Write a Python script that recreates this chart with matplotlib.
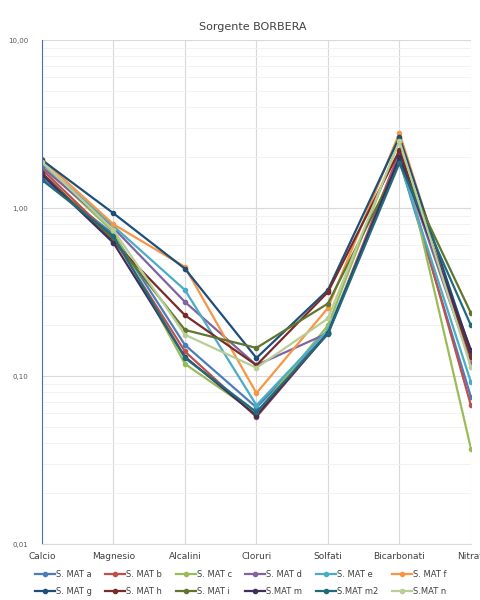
import numpy as np
import matplotlib.pyplot as plt
from matplotlib.ticker import FixedLocator, LogLocator, NullFormatter

categories = ["Calcio", "Magnesio", "Alcalini", "Cloruri", "Solfati", "Bicarbonati", "Nitrati"]

series_names = ["S. MAT a", "S. MAT b", "S. MAT c", "S. MAT d", "S. MAT e", "S. MAT f",
                "S. MAT g", "S. MAT h", "S. MAT i", "S.MAT m", "S.MAT m2", "S.MAT n"]

mat_a = [1.50, 0.70, 0.153, 0.065, 0.180, 1.93, 0.075]
mat_b = [1.70, 0.66, 0.140, 0.057, 0.180, 2.15, 0.067]
mat_c = [1.80, 0.72, 0.118, 0.060, 0.200, 2.54, 0.037]
mat_d = [1.75, 0.76, 0.276, 0.116, 0.180, 2.05, 0.120]
mat_e = [1.85, 0.78, 0.325, 0.067, 0.188, 1.90, 0.092]
mat_f = [1.95, 0.80, 0.446, 0.079, 0.254, 2.80, 0.128]
mat_g = [1.93, 0.93, 0.435, 0.128, 0.325, 2.64, 0.139]
mat_h = [1.62, 0.63, 0.230, 0.116, 0.316, 2.20, 0.130]
mat_i = [1.58, 0.65, 0.188, 0.147, 0.270, 1.88, 0.237]
mat_m = [1.58, 0.62, 0.130, 0.058, 0.180, 2.00, 0.143]
mat_m2 = [1.47, 0.68, 0.128, 0.061, 0.178, 1.85, 0.200]
mat_n = [1.88, 0.74, 0.176, 0.112, 0.220, 2.50, 0.113]

values = [mat_a, mat_b, mat_c, mat_d, mat_e, mat_f,
          mat_g, mat_h, mat_i, mat_m, mat_m2, mat_n]

colors = ["#4A7EBB", "#C0504D", "#9BBB59", "#8064A2", "#4BACC6", "#F79646",
          "#1F4E79", "#772C2A", "#5F7530", "#3F2F5A", "#216A7C", "#B9CD96"]

fig = plt.figure(figsize=(4.81, 6.0), dpi=100)
ax = fig.add_axes([0.0873, 0.0933, 0.8917, 0.84])

x = np.arange(len(categories))
lines = []
for name, vals, col in zip(series_names, values, colors):
    ln, = ax.plot(x, vals, color=col, lw=1.6, marker="o", ms=3, label=name)
    lines.append(ln)

ax.set_yscale("log")
ax.set_ylim(0.01, 10)
ax.set_xlim(0, len(categories) - 1)
ax.yaxis.set_major_locator(FixedLocator([0.01, 0.1, 1, 10]))
ax.set_yticklabels(["0,01", "0,10", "1,00", "10,00"])
ax.yaxis.set_minor_locator(LogLocator(base=10, subs=np.arange(2, 10)))
ax.yaxis.set_minor_formatter(NullFormatter())
ax.set_xticks(x)
ax.set_xticklabels(categories)

ax.grid(axis="y", which="major", color="#D9D9D9", lw=0.8)
ax.grid(axis="y", which="minor", color="#F0F0F0", lw=0.6)
ax.grid(axis="x", which="major", color="#D9D9D9", lw=0.8)
ax.set_axisbelow(True)

ax.tick_params(axis="both", which="both", length=0)
ax.tick_params(axis="y", labelsize=5, labelcolor="#595959", pad=10)
ax.tick_params(axis="x", labelsize=6.5, labelcolor="#404040", pad=6)

for s in ["top", "right"]:
    ax.spines[s].set_visible(False)
ax.spines["left"].set_color("#4A6FA5")
ax.spines["bottom"].set_color("#D9D9D9")

fig.text(0.525, 0.955, "Sorgente BORBERA", ha="center", va="center",
         fontsize=8, color="#404040")

# legend filled column by column -> interleave so it reads row by row
order = [0, 6, 1, 7, 2, 8, 3, 9, 4, 10, 5, 11]
fig.legend([lines[i] for i in order], [series_names[i] for i in order],
           loc="lower center", bbox_to_anchor=(0.5, -0.005), ncol=6, fontsize=6,
           frameon=False, handlelength=2.4, columnspacing=1.6, handletextpad=0.15,
           labelspacing=0.9, labelcolor="#404040")

fig.savefig("out.png", dpi=100)
